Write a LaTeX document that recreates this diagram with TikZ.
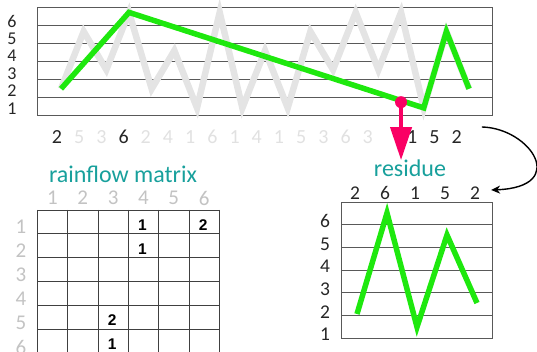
\documentclass[tikz,border=0pt]{standalone}
\usepackage{fontspec}
\setmainfont{Carlito}
\newfontfamily\cellfont{Liberation Sans}
\usetikzlibrary{arrows.meta}
\definecolor{rfgreen}{RGB}{30,232,14}
\definecolor{rfpink}{RGB}{250,0,100}
\definecolor{rfteal}{RGB}{24,160,156}
\definecolor{rfwave}{RGB}{228,228,228}
\definecolor{rffaint}{RGB}{225,225,225}
\definecolor{rfhead}{RGB}{195,195,195}

\begin{document}
\begin{tikzpicture}[x=1pt,y=-1pt,>={Stealth[length=9pt,width=8pt]},
  gridline/.style={black!65,line width=0.9pt},
  cellgrid/.style={black!75,line width=0.9pt},
  graywave/.style={rfwave,line width=6.5pt},
  greenline/.style={rfgreen,line width=5.5pt},
  lbldark/.style={text=black!85,font=\fontsize{20}{20}\selectfont,inner sep=0pt},
  lblfaint/.style={lbldark,text=rffaint},
  axislbl/.style={text=black!85,font=\fontsize{18}{18}\selectfont,inner sep=0pt},
  reslbl/.style={text=black!85,font=\fontsize{19.5}{19.5}\selectfont,inner sep=0pt},
  hdr/.style={text=rfhead,font=\fontsize{21}{21}\selectfont,inner sep=0pt},
  cellnum/.style={font=\cellfont\bfseries\fontsize{15.5}{15.5}\selectfont,inner sep=0pt},
  title/.style={text=rfteal,font=\fontsize{24}{24}\selectfont,inner sep=0pt}]
  \useasboundingbox (0,0) rectangle (537,352);
  \clip (0,0) rectangle (537,352);
  % load history chart
  \draw[gridline] (37,7.5) rectangle (492,115);
  \foreach \k in {1,...,5}
    \draw[gridline] (37,{7.5+17.9*\k}) -- (492,{7.5+17.9*\k});
  \foreach \v in {1,...,6}
    \node[axislbl] (ya\v) at (12,{126-17.5*\v}) {\v};
  \begin{scope}[shift={(61,127)},x=22.67pt,y=19.1pt]
    \draw[graywave] plot coordinates {(0,2) (1,5) (2,3) (3,6) (4,2) (5,4) (6,1) (7,6) (8,1) (9,4)
      (10,1) (11,5) (12,3) (13,6) (14,3) (15,6) (16,1) (17,5) (18,2)};
    \draw[greenline] (0,2) -- (3,6) -- (16,1) -- (17,5) -- (18,2);
    \node[circle,fill=rfpink,inner sep=0pt,minimum size=12pt] (cut) at (15,1.3) {};
  \end{scope}
  % turning points under the chart
  \foreach \i/\v/\s in {0/2/lbldark,1/5/lblfaint,2/3/lblfaint,3/6/lbldark,4/2/lblfaint,5/4/lblfaint,
      6/1/lblfaint,7/6/lblfaint,8/1/lblfaint,9/4/lblfaint,10/1/lblfaint,11/5/lblfaint,12/3/lblfaint,
      13/6/lblfaint,14/3/lblfaint,16/1/lbldark,17/5/lbldark,18/2/lbldark}
    \node[\s] (t\i) at ({57+22.2*\i},137) {\v};
  % residue chart
  \node[title,anchor=base] (restitle) at (410,177) {residue};
  \draw[-{Triangle[length=33pt,width=21pt]},rfpink,line width=4pt] (cut) -- (cut |- restitle.north);
  \foreach \v [count=\i from 0] in {2,6,1,5,2}
    \node[reslbl] (r\i) at ({355+30*\i},193) {\v};
  \draw[gridline] (341.7,202) rectangle (492.7,338);
  \foreach \k in {1,...,5}
    \draw[gridline] (341.7,{202+22.67*\k}) -- (492.7,{202+22.67*\k});
  \foreach \v in {1,...,6}
    \node[reslbl] (yb\v) at (325,{357-22.6*\v}) {\v};
  \draw[greenline] (357,314) -- (387,213) -- (417,327) -- (447,235) -- (477,303);
  \draw[->,line width=1.4pt] ([shift={(20,-10)}]t18.east) .. controls (530,128) and (570,187) .. ([shift={(11,-3)}]r4.east);
  % rainflow matrix
  \node[title,anchor=base] (mattitle) at (123,183) {rainflow matrix};
  \foreach \j in {0,...,6}
    \draw[cellgrid] ({37.3+30.33*\j},210) -- ({37.3+30.33*\j},352.8);
  \foreach \k in {0,...,6}
    \draw[cellgrid] (37.3,{210+23.8*\k}) -- (219.3,{210+23.8*\k});
  \foreach \j in {1,...,6}
    \node[hdr] (col\j) at ({37.3+30.33*\j-15.2},198) {\j};
  \foreach \k in {1,...,6}
    \node[hdr] (row\k) at (21,{203+24*\k}) {\k};
  \foreach \k/\j/\n in {1/4/1,1/6/2,2/4/1,5/3/2,6/3/1}
    \node[cellnum] (m\k\j) at ({37.3+30.33*\j-16.2},{210+23.8*\k-8.9}) {\n};
\end{tikzpicture}
\end{document}
